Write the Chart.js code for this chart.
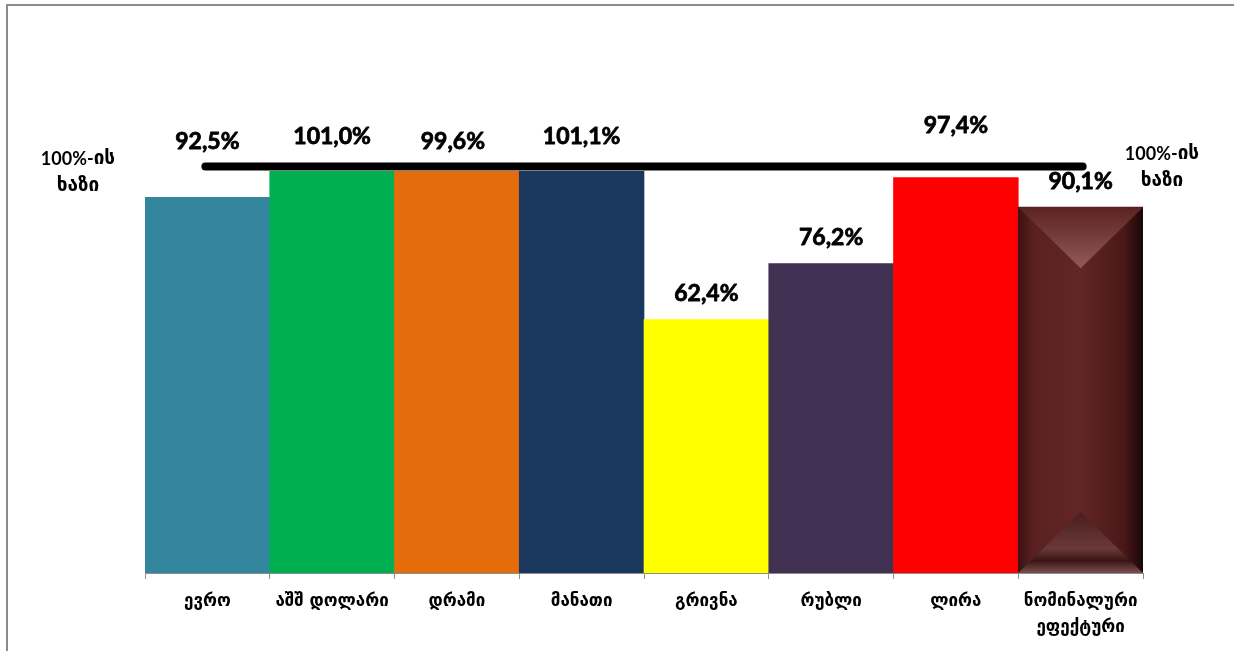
<!DOCTYPE html>
<html>
<head>
<meta charset="utf-8">
<script src="https://cdn.jsdelivr.net/npm/chart.js@4.4.1/dist/chart.umd.min.js"></script>
<style>
html,body{margin:0;padding:0;background:#fff;}
#wrap{position:relative;width:1234px;height:651px;}
#frame{position:absolute;left:6px;top:4px;width:1240px;height:660px;border-left:2px solid #8c8c8c;border-top:2px solid #8c8c8c;}
canvas{position:absolute;left:0;top:0;}
</style>
</head>
<body>
<div id="wrap"><div id="frame"></div><canvas id="c" width="1234" height="651"></canvas></div>
<script>
const categories = ["ევრო", "აშშ დოლარი", "დრამი", "მანათი", "გრივნა", "რუბლი", "ლირა", ["ნომინალური", "ეფექტური"]];
const values = [92.5, 101.0, 99.6, 101.1, 62.4, 76.2, 97.4, 90.1];
const valueLabels = ["92,5%", "101,0%", "99,6%", "101,1%", "62,4%", "76,2%", "97,4%", "90,1%"];
const baseLineValue = 100;
const baseLineLabel = [["100%-", "ის"], ["", "ხაზი"]];
const colors = ["#33869E", "#00B050", "#E46C0A", "#1A385E", "#FFFF00", "#403152", "#FF0000", "#5A2222"];

const labelFont = "bold 23px Lato, 'DejaVu Sans', sans-serif";
const numFont = "bold 18px Lato, sans-serif";
const geoFont = "bold 19px 'DejaVu Sans', sans-serif";

function drawMixed(ctx, parts, cx, cy) {
  ctx.font = numFont; const w1 = ctx.measureText(parts[0]).width;
  ctx.font = geoFont; const w2 = ctx.measureText(parts[1]).width;
  let x0 = cx - (w1 + w2) / 2;
  ctx.textAlign = 'left';
  ctx.font = numFont; ctx.fillText(parts[0], x0, cy);
  ctx.font = geoFont; ctx.fillText(parts[1], x0 + w1, cy);
}

const overlay = {
  id: 'overlay',
  afterDatasetsDraw(chart, args, opts) {
    const ctx = chart.ctx;
    const x = chart.scales.x, y = chart.scales.y;
    const meta = chart.getDatasetMeta(0);
    const b = meta.data[7];
    if (b) {
      const l = b.x - b.width / 2, r = b.x + b.width / 2;
      const t = Math.max(b.y, chart.chartArea.top), bt = b.base;
      const w = r - l;
      ctx.save();
      let g = ctx.createLinearGradient(l, 0, r, 0);
      g.addColorStop(0, '#3a1212'); g.addColorStop(0.12, '#5a2020'); g.addColorStop(0.5, '#622626');
      g.addColorStop(0.85, '#4a1818'); g.addColorStop(1, '#1a0606');
      ctx.fillStyle = g; ctx.fillRect(l, t, w, bt - t);
      const d = 61;
      g = ctx.createLinearGradient(0, t, 0, t + d);
      g.addColorStop(0, '#5c2222'); g.addColorStop(1, '#925a5a');
      ctx.fillStyle = g;
      ctx.beginPath(); ctx.moveTo(l, t); ctx.lineTo(r, t); ctx.lineTo(b.x, t + d); ctx.closePath(); ctx.fill();
      g = ctx.createLinearGradient(0, bt - d, 0, bt);
      g.addColorStop(0, '#4a1c1c'); g.addColorStop(0.6, '#6a3a3a'); g.addColorStop(0.8, '#3a1414'); g.addColorStop(1, '#7a5050');
      ctx.fillStyle = g;
      ctx.beginPath(); ctx.moveTo(l, bt); ctx.lineTo(r, bt); ctx.lineTo(b.x, bt - d); ctx.closePath(); ctx.fill();
      ctx.restore();
    }
    const yl = y.getPixelForValue(baseLineValue) - 0.5;
    ctx.save();
    ctx.strokeStyle = '#000'; ctx.lineWidth = 8; ctx.lineCap = 'round';
    ctx.beginPath();
    ctx.moveTo(x.getPixelForValue(0) - 2, yl);
    ctx.lineTo(x.getPixelForValue(7) + 2, yl);
    ctx.stroke();
    ctx.fillStyle = '#000'; ctx.strokeStyle = '#000'; ctx.lineWidth = 0.8; ctx.lineCap = 'butt'; ctx.lineJoin = 'round';
    ctx.textAlign = 'center'; ctx.textBaseline = 'middle';
    ctx.font = labelFont;
    meta.data.forEach((el, i) => {
      const vy = y.getPixelForValue(values[i]) - 26 + opts.shift[i];
      ctx.fillText(valueLabels[i], el.x + opts.dx[i], vy);
      ctx.strokeText(valueLabels[i], el.x + opts.dx[i], vy);
    });
    drawMixed(ctx, baseLineLabel[0], 78, yl - 7);
    drawMixed(ctx, baseLineLabel[1], 78, yl + 20);
    drawMixed(ctx, baseLineLabel[0], 1162, yl - 12);
    drawMixed(ctx, baseLineLabel[1], 1162, yl + 15);
    ctx.restore();
  }
};

new Chart(document.getElementById('c'), {
  type: 'bar',
  data: {
    labels: categories,
    datasets: [{
      data: values,
      backgroundColor: colors,
      borderWidth: 0,
      barPercentage: 1,
      categoryPercentage: 1
    }]
  },
  options: {
    responsive: false,
    animation: false,
    events: [],
    layout: { padding: { left: 145, right: 91, top: 171, bottom: 0 } },
    plugins: {
      legend: { display: false },
      tooltip: { enabled: false },
      overlay: { shift: [-30, 0, -1, 0, 0, 0, -26, 0], dx: [0, 0, -4, 0, 0, 0, 0, 0] }
    },
    scales: {
      y: { display: false, min: 0, max: 99 },
      x: {
        afterFit(s) { s.height = 78; },
        border: { display: true, color: '#8c8c8c', width: 1 },
        grid: { drawOnChartArea: false, drawTicks: true, tickLength: 6, color: '#8c8c8c', offset: true },
        ticks: { color: '#000', padding: 10, font: { family: "'DejaVu Sans', sans-serif", size: 17, weight: 'bold', lineHeight: 1.5 } }
      }
    }
  },
  plugins: [overlay]
});
</script>
</body>
</html>
